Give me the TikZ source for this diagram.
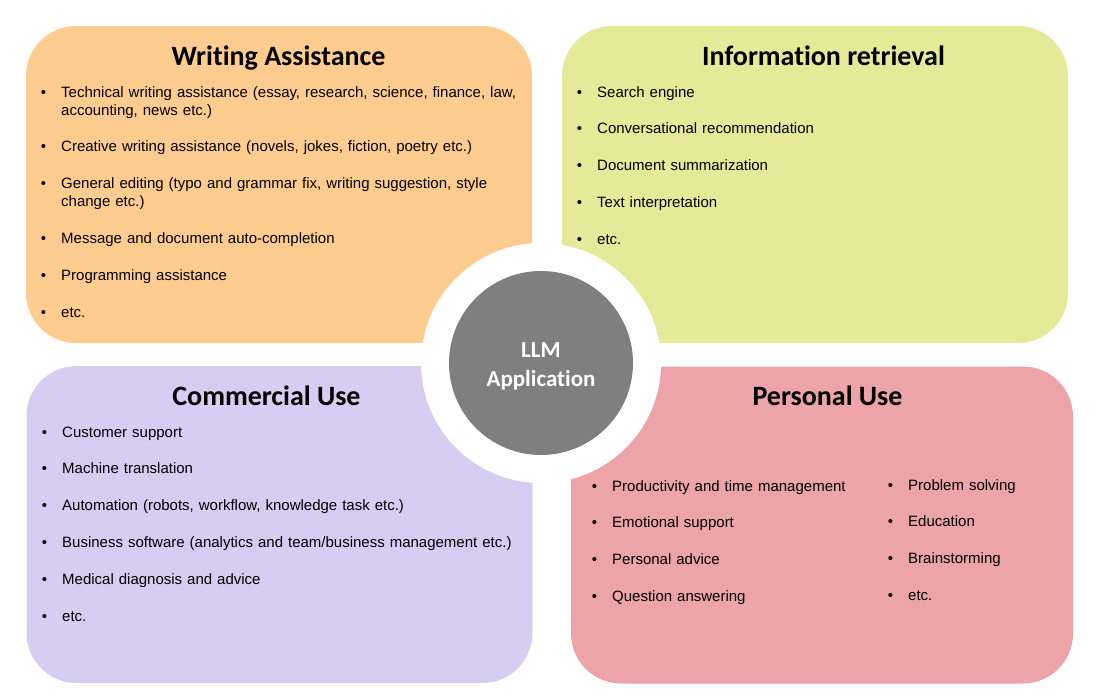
\documentclass[tikz,border=0pt]{standalone}
\usepackage{fontspec}
\setmainfont{Liberation Sans}
\newfontfamily\calibri[Ligatures=NoCommon]{Carlito}
\usepackage{tikz}
\usetikzlibrary{positioning}
\usepackage{xcolor}
\definecolor{wacol}{HTML}{FFCC90}
\definecolor{ircol}{HTML}{E6EA98}
\definecolor{cucol}{HTML}{D6CEF2}
\definecolor{pucol}{HTML}{ECA4A8}
\definecolor{hubcol}{HTML}{7F7F7F}
\tikzstyle{panel} = [rectangle, rounded corners=50pt, inner sep=0pt, minimum width=506pt, minimum height=317pt]
\tikzstyle{heading} = [anchor=base, inner sep=0pt, font=\calibri\bfseries\fontsize{28}{34}\selectfont]
\tikzstyle{item} = [inner sep=0pt, align=left, text width=462pt, font=\fontsize{15}{18}\selectfont]
\tikzstyle{ring} = [circle, fill=white, minimum size=240pt, inner sep=0pt]
\tikzstyle{hub} = [circle, fill=hubcol, minimum size=184pt, inner sep=0pt, align=center,
    text=white, font=\calibri\bfseries\fontsize{23}{29}\selectfont]
\newcommand{\bul}[1]{\strut\llap{\textbullet\hspace{15pt}}#1\strut}

\begin{document}
\begin{tikzpicture}[x=1pt, y=-1pt, node distance=18.5pt]
\useasboundingbox (0,0) rectangle (1102,699);
% four panels
\node (writing) [panel, fill=wacol] at (279,184.5) {};
\node (retrieval) [panel, fill=ircol] at (815,184.5) {};
\node (commercial) [panel, fill=cucol] at (279.5,524.5) {};
\node (personal) [panel, fill=pucol, minimum width=502pt] at (822,525) {};
% centre
\node (ring) [ring] at (541,363) {};
\node (hub) [hub] at (ring.center) {\rule{0pt}{21pt}LLM\\Application};

% writing assistance
\node (wahead) [heading] at (278.5,65) {Writing Assistance};
\node (wa1) [item, anchor=base west] at (61,97) {\bul{Technical writing assistance (essay, research, science, finance, law,\\accounting, news etc.)}};
\node (wa2) [item, below=of wa1] {\bul{Creative writing assistance (novels, jokes, fiction, poetry etc.)}};
\node (wa3) [item, below=of wa2] {\bul{General editing (typo and grammar fix, writing suggestion, style\\change etc.)}};
\node (wa4) [item, below=of wa3] {\bul{Message and document auto-completion}};
\node (wa5) [item, below=of wa4] {\bul{Programming assistance}};
\node (wa6) [item, below=of wa5] {\bul{etc.}};

% information retrieval
\node (irhead) [heading] at (823.5,65) {Information retrieval};
\node (ir1) [item, anchor=base west] at (597,97) {\bul{Search engine}};
\node (ir2) [item, below=of ir1] {\bul{Conversational recommendation}};
\node (ir3) [item, below=of ir2] {\bul{Document summarization}};
\node (ir4) [item, below=of ir3] {\bul{Text interpretation}};
\node (ir5) [item, below=of ir4] {\bul{etc.}};

% commercial use
\node (cuhead) [heading] at (266.5,405) {Commercial Use};
\node (cu1) [item, anchor=base west] at (62,437) {\bul{Customer support}};
\node (cu2) [item, below=of cu1] {\bul{Machine translation}};
\node (cu3) [item, below=of cu2] {\bul{Automation (robots, workflow, knowledge task etc.)}};
\node (cu4) [item, below=of cu3] {\bul{Business software (analytics and team/business management etc.)}};
\node (cu5) [item, below=of cu4] {\bul{Medical diagnosis and advice}};
\node (cu6) [item, below=of cu5] {\bul{etc.}};

% personal use, two columns
\node (puhead) [heading] at (827.5,405) {Personal Use};
\node (pu1) [item, text width=260pt, anchor=base west] at (612,491) {\bul{Productivity and time management}};
\node (pu2) [item, text width=260pt, below=of pu1] {\bul{Emotional support}};
\node (pu3) [item, text width=260pt, below=of pu2] {\bul{Personal advice}};
\node (pu4) [item, text width=260pt, below=of pu3] {\bul{Question answering}};
\node (pu5) [item, text width=150pt, anchor=base west] at (908,490) {\bul{Problem solving}};
\node (pu6) [item, text width=150pt, below=of pu5] {\bul{Education}};
\node (pu7) [item, text width=150pt, below=of pu6] {\bul{Brainstorming}};
\node (pu8) [item, text width=150pt, below=of pu7] {\bul{etc.}};
\end{tikzpicture}
\end{document}
